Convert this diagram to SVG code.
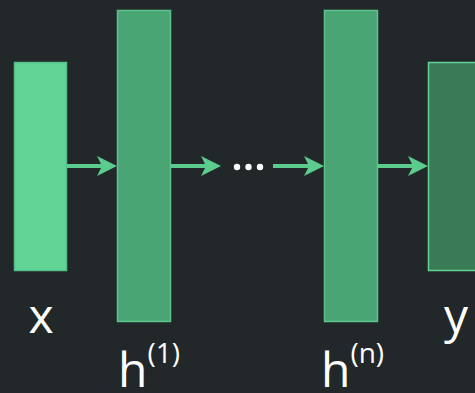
<svg xmlns="http://www.w3.org/2000/svg" width="475" height="393" viewBox="0 0 475 393">
<defs>
<style>
.lbl{font-family:"Open Sans","Liberation Sans",sans-serif;fill:#ffffff;font-size:48px}
.sup{font-size:28px}
.arr{stroke:#5ccb8e;stroke-width:4;fill:none}
.head{fill:#5ccb8e}
</style>
</defs>
<rect width="475" height="393" fill="#222729"/>
<g id="node-x">
<rect x="14.5" y="62.5" width="52" height="208" fill="#62d496" stroke="#55c088" stroke-width="1.5"/>
<text class="lbl" x="41" y="333" text-anchor="middle">x</text>
</g>
<g id="node-h1">
<rect x="117.5" y="10.5" width="53" height="311" fill="#4aa574" stroke="#5cc48a" stroke-width="1.5"/>
<text class="lbl" x="118" y="387">h<tspan class="sup" dy="-24">(1)</tspan></text>
</g>
<g id="node-hn">
<rect x="324.5" y="10.5" width="53" height="311" fill="#4aa574" stroke="#5cc48a" stroke-width="1.5"/>
<text class="lbl" x="321" y="387">h<tspan class="sup" dy="-24">(n)</tspan></text>
</g>
<g id="node-y">
<rect x="428.5" y="62.5" width="60" height="208" fill="#3a7a55" stroke="#62d496" stroke-width="1.5"/>
<text class="lbl" x="456" y="333" text-anchor="middle">y</text>
</g>
<g id="node-dots" fill="#ffffff">
<circle cx="237" cy="167" r="3.2"/>
<circle cx="248.5" cy="167" r="3.2"/>
<circle cx="260" cy="167" r="3.2"/>
</g>
<g id="connectors">
<line class="arr" x1="67" y1="166" x2="102" y2="166"/>
<path class="head" d="M117,166 L97,156 L102,166 L97,176 Z"/>
<line class="arr" x1="171" y1="166" x2="206" y2="166"/>
<path class="head" d="M221,166 L201,156 L206,166 L201,176 Z"/>
<line class="arr" x1="273" y1="166" x2="309" y2="166"/>
<path class="head" d="M324,166 L304,156 L309,166 L304,176 Z"/>
<line class="arr" x1="378" y1="166" x2="413" y2="166"/>
<path class="head" d="M428,166 L408,156 L413,166 L408,176 Z"/>
</g>
</svg>
